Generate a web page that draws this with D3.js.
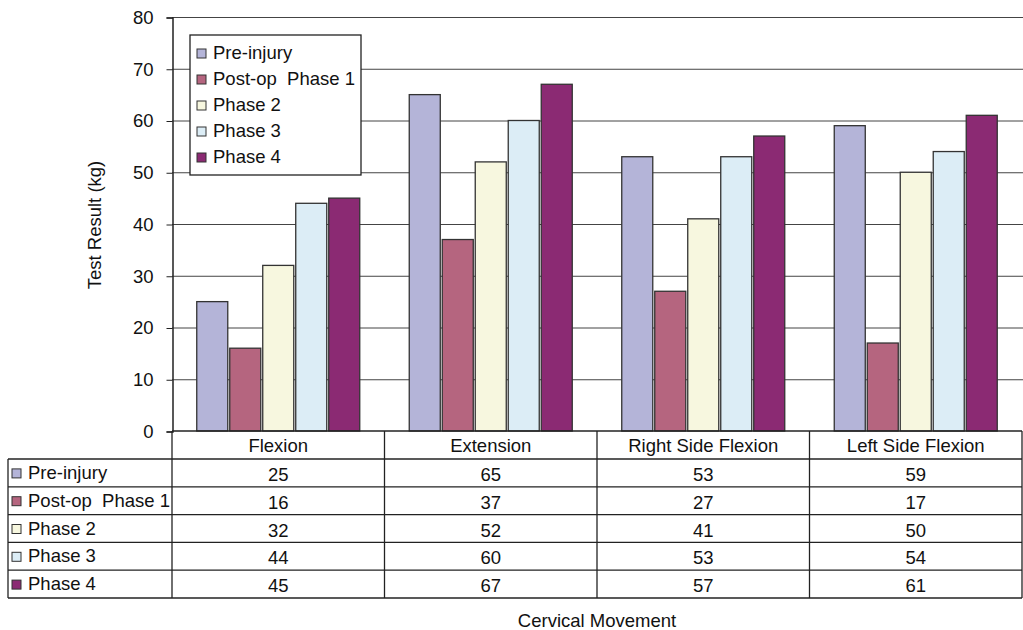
<!DOCTYPE html>
<html lang="en">
<head>
    <meta charset="UTF-8">
    <title>Cervical Movement</title>
    <script type="text/javascript" src="https://cdn.jsdelivr.net/npm/d3@7"></script>
    <style>
        body { margin: 0; background: #fff; }
        text { font-family: "Liberation Sans", Arial, sans-serif; }
    </style>
</head>
<body>
<script type="text/javascript">
    var categories = ["Flexion", "Extension", "Right Side Flexion", "Left Side Flexion"];
    var seriesNames = ["Pre-injury", "Post-op  Phase 1", "Phase 2", "Phase 3", "Phase 4"];
    var preInjury = [25, 65, 53, 59];
    var postOp1 = [16, 37, 27, 17];
    var phase2 = [32, 52, 41, 50];
    var phase3 = [44, 60, 53, 54];
    var phase4 = [45, 67, 57, 61];
    var yTicks = [0, 10, 20, 30, 40, 50, 60, 70, 80];
    var colors = ["#b4b4d8", "#b5657f", "#f7f7df", "#dcedf6", "#8b2a73"];

    var series = [preInjury, postOp1, phase2, phase3, phase4];

    var w = 1023, h = 630;
    var plotL = 172, plotR = 1022, plotT = 17, plotB = 431;
    var rowH = 27.8, headH = 28, tableLeft = 8;
    var fs = 18.5;

    var svg = d3.select("body").append("svg")
        .attr("width", w)
        .attr("height", h);

    var y = d3.scaleLinear().domain([0, 80]).range([plotB, plotT]);
    var x0 = d3.scaleBand().domain(categories).range([plotL, plotR]);
    var x1 = d3.scaleBand().domain(d3.range(series.length))
        .range([0, x0.bandwidth()]).paddingInner(0.06).paddingOuter(0.75);

    // gridlines
    svg.selectAll("line.grid")
        .data(yTicks.slice(1)).enter()
        .append("line")
        .attr("x1", plotL).attr("x2", w)
        .attr("y1", function (d) { return y(d) + 0.5; })
        .attr("y2", function (d) { return y(d) + 0.5; })
        .attr("stroke", "#444").attr("stroke-width", 1);

    // y axis
    var yAxis = d3.axisLeft(y).tickValues(yTicks).tickSize(6).tickPadding(13);
    var ya = svg.append("g").attr("transform", "translate(" + (plotL + 0.5) + ",0.5)").call(yAxis);
    ya.select(".domain").attr("stroke", "#222").attr("stroke-width", 1.5);
    ya.selectAll(".tick line").attr("stroke", "#222");
    ya.selectAll(".tick text").attr("font-size", fs).attr("fill", "#111")
        .style("font-family", "'Liberation Sans', Arial, sans-serif");

    // bars
    var groups = svg.selectAll("g.cat")
        .data(categories).enter()
        .append("g")
        .attr("transform", function (d) { return "translate(" + x0(d) + ",0)"; });

    groups.selectAll("rect")
        .data(function (d, ci) {
            return series.map(function (s, si) { return { si: si, v: s[ci] }; });
        }).enter()
        .append("rect")
        .attr("x", function (d) { return x1(d.si); })
        .attr("y", function (d) { return y(d.v); })
        .attr("width", x1.bandwidth())
        .attr("height", function (d) { return plotB - y(d.v); })
        .attr("fill", function (d) { return colors[d.si]; })
        .attr("stroke", "#333").attr("stroke-width", 1.3);

    // data table
    var tbl = svg.append("g");
    var tableBottom = plotB + headH + rowH * series.length;

    tbl.append("line")
        .attr("x1", plotL).attr("x2", plotR)
        .attr("y1", plotB).attr("y2", plotB)
        .attr("stroke", "#222").attr("stroke-width", 1.5);
    d3.range(series.length + 1).forEach(function (i) {
        var yy = plotB + headH + rowH * i;
        tbl.append("line")
            .attr("x1", tableLeft).attr("x2", plotR)
            .attr("y1", yy).attr("y2", yy)
            .attr("stroke", "#222").attr("stroke-width", 1.3);
    });
    tbl.append("line")
        .attr("x1", tableLeft).attr("x2", tableLeft)
        .attr("y1", plotB + headH).attr("y2", tableBottom)
        .attr("stroke", "#222").attr("stroke-width", 1.3);
    categories.concat(["end"]).forEach(function (c, i) {
        var xx = i < categories.length ? x0(c) : plotR;
        tbl.append("line")
            .attr("x1", xx).attr("x2", xx)
            .attr("y1", plotB).attr("y2", tableBottom)
            .attr("stroke", "#222").attr("stroke-width", 1.3);
    });

    // header labels
    tbl.selectAll("text.head")
        .data(categories).enter()
        .append("text")
        .attr("x", function (d) { return x0(d) + x0.bandwidth() / 2; })
        .attr("y", plotB + headH / 2 + 7)
        .attr("text-anchor", "middle")
        .attr("font-size", fs).attr("fill", "#111")
        .text(function (d) { return d; });

    // row labels with swatches
    seriesNames.forEach(function (name, si) {
        var cy = plotB + headH + rowH * si + rowH / 2;
        tbl.append("rect")
            .attr("x", 12).attr("y", cy - 4)
            .attr("width", 9).attr("height", 9)
            .attr("fill", colors[si]).attr("stroke", "#333").attr("stroke-width", 1);
        tbl.append("text")
            .attr("x", 28).attr("y", cy + 6)
            .attr("font-size", fs).attr("fill", "#111")
            .style("white-space", "pre")
            .text(name);
        categories.forEach(function (c, ci) {
            tbl.append("text")
                .attr("x", x0(c) + x0.bandwidth() / 2)
                .attr("y", cy + 8)
                .attr("text-anchor", "middle")
                .attr("font-size", fs).attr("fill", "#111")
                .text(series[si][ci]);
        });
    });

    // legend
    var lg = svg.append("g").attr("transform", "translate(190,35)");
    lg.append("rect")
        .attr("width", 171).attr("height", 140)
        .attr("fill", "#fff").attr("stroke", "#222").attr("stroke-width", 1.3);
    seriesNames.forEach(function (name, si) {
        var cy = 18 + si * 26;
        lg.append("rect")
            .attr("x", 7).attr("y", cy - 4)
            .attr("width", 9).attr("height", 9)
            .attr("fill", colors[si]).attr("stroke", "#333").attr("stroke-width", 1);
        lg.append("text")
            .attr("x", 23).attr("y", cy + 6)
            .attr("font-size", fs).attr("fill", "#111")
            .style("white-space", "pre")
            .text(name);
    });

    // axis titles
    svg.append("text")
        .attr("transform", "translate(101,225) rotate(-90)")
        .attr("text-anchor", "middle")
        .attr("font-size", fs).attr("fill", "#111")
        .text("Test Result (kg)");
    svg.append("text")
        .attr("x", 597).attr("y", 627)
        .attr("text-anchor", "middle")
        .attr("font-size", fs).attr("fill", "#111")
        .text("Cervical Movement");
</script>
</body>
</html>
